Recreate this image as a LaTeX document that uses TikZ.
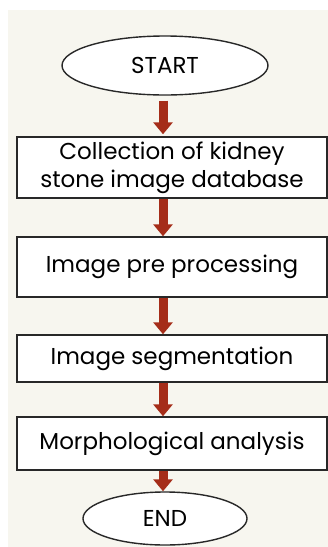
\documentclass[tikz,border=0pt]{standalone}
\usepackage{fontspec}
\setmainfont{Poppins}
\usetikzlibrary{arrows.meta}
\definecolor{bgcream}{RGB}{247,246,239}
\definecolor{arrowred}{RGB}{165,45,25}
\definecolor{edgegray}{RGB}{40,40,40}
\tikzset{
  procbox/.style={draw=edgegray, line width=1.4pt, fill=white, minimum width=310pt, inner sep=0pt, align=center, font=\fontsize{23}{28}\selectfont},
  termnode/.style={draw=edgegray, line width=1.4pt, fill=white, ellipse, inner sep=0pt, font=\fontsize{23}{28}\selectfont},
  flowarrow/.style={draw=arrowred, line width=9pt, -{Triangle[width=19pt,length=12pt]}, arrowred}
}
\usetikzlibrary{shapes.geometric}
\begin{document}
\begin{tikzpicture}[x=1pt,y=-1pt]
\useasboundingbox (0,0) rectangle (328,547);
\fill[white] (0,0) rectangle (328,547);
\fill[bgcream] (8,10) rectangle (328,547);
\node[termnode, minimum width=206pt, minimum height=59pt] (start) at (165,65.5) {START};
\node[procbox, minimum height=61pt] (b1) at (172,167.5) {Collection of kidney\\stone image database};
\node[procbox, minimum height=60pt] (b2) at (172,267) {Image pre processing};
\node[procbox, minimum height=47pt] (b3) at (172,358.5) {Image segmentation};
\node[procbox, minimum height=53pt] (b4) at (172,443.5) {Morphological analysis};
\node[termnode, minimum width=164pt, minimum height=53pt] (end) at (165,518.5) {END};
\coordinate (ax) at (163,0);
\draw[flowarrow, shorten <=5pt, shorten >=2pt] (start.south -| ax) -- (b1.north -| ax);
\draw[flowarrow, shorten <=0.7pt] (b1.south -| ax) -- (b2.north -| ax);
\draw[flowarrow, shorten <=0.7pt] (b2.south -| ax) -- (b3.north -| ax);
\draw[flowarrow, shorten <=0.7pt] (b3.south -| ax) -- (b4.north -| ax);
\draw[flowarrow, shorten <=0.7pt] (b4.south -| ax) -- (end.north -| ax);
\end{tikzpicture}
\end{document}
